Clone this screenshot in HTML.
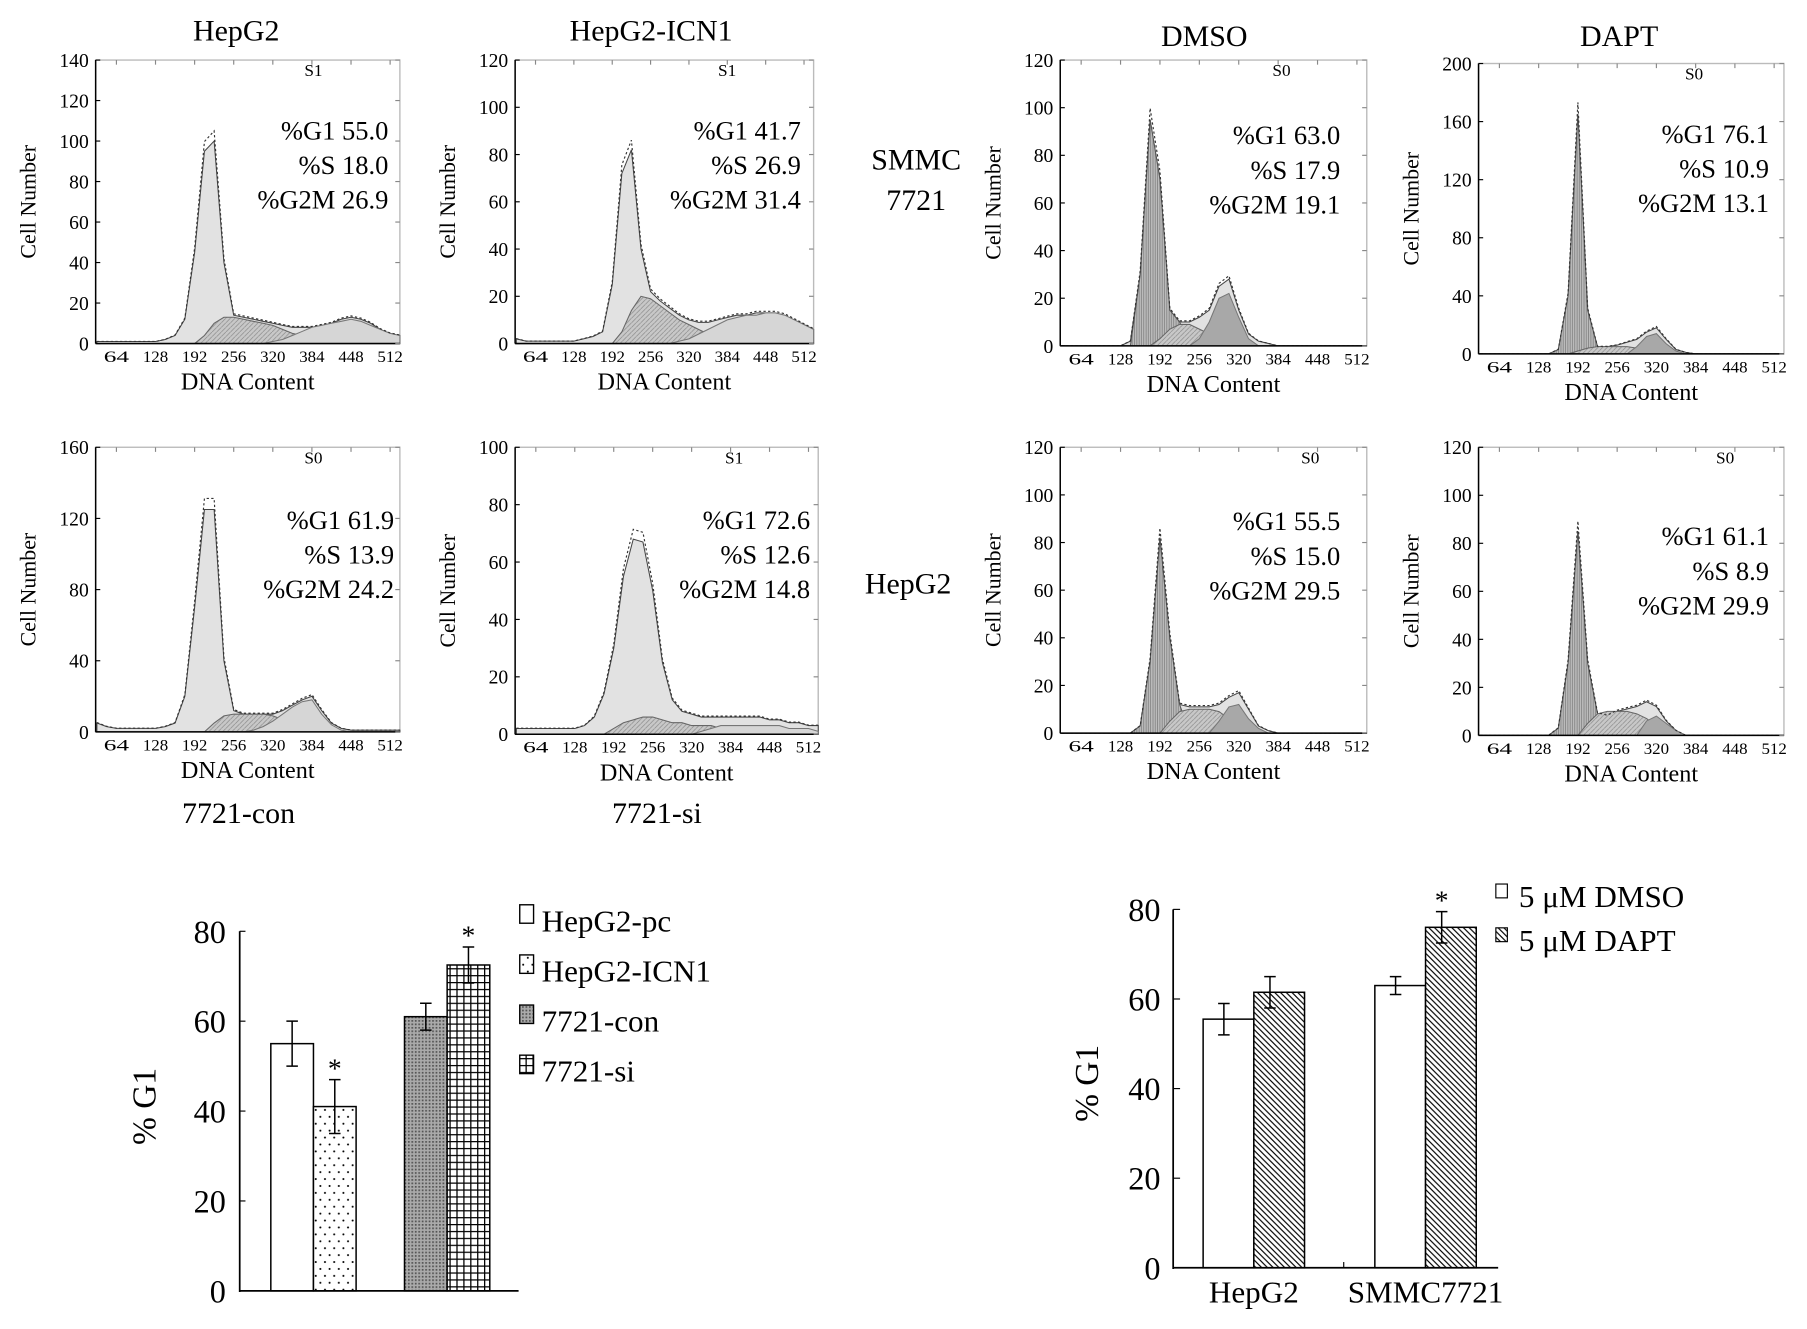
<!DOCTYPE html>
<html><head><meta charset="utf-8">
<style>
html,body{margin:0;padding:0;background:#fff;}
svg{display:block;font-family:"Liberation Serif",serif;}
</style></head>
<body>
<svg id="fig" width="1807" height="1329" viewBox="0 0 1568 1153" xmlns="http://www.w3.org/2000/svg">
<defs>
<pattern id="pDots" width="8" height="12" patternUnits="userSpaceOnUse"><rect width="8" height="12" fill="#fff"/><circle cx="2" cy="3" r="0.9" fill="#000"/><circle cx="6" cy="9" r="0.9" fill="#000"/></pattern>
<pattern id="pDark" width="3" height="3" patternUnits="userSpaceOnUse"><rect width="3" height="3" fill="#aaa"/><rect width="1.5" height="1.5" fill="#555"/></pattern>
<pattern id="pGrid" width="6" height="6" patternUnits="userSpaceOnUse"><rect width="6" height="6" fill="#fff"/><path d="M0 0.5H6M0.5 0V6" stroke="#000" stroke-width="1.2"/></pattern>
<pattern id="pDiag" width="5" height="5" patternUnits="userSpaceOnUse"><rect width="5" height="5" fill="#fff"/><path d="M-1 -1L6 6M-1 4L1 6M4 -1L6 1" stroke="#000" stroke-width="1"/></pattern>
<pattern id="pHatchS" width="4" height="4" patternUnits="userSpaceOnUse"><rect width="4" height="4" fill="#c8c8c8"/><path d="M0 4L4 0" stroke="#888" stroke-width="0.6"/></pattern>
<pattern id="pVert" width="2" height="4" patternUnits="userSpaceOnUse"><rect width="2" height="4" fill="#bbb"/><path d="M0.5 0V4" stroke="#777" stroke-width="0.6"/></pattern>
</defs>
<g id="root"></g>
</svg>
<script>
const NS="http://www.w3.org/2000/svg";
const root=document.getElementById('root');
function el(tag,attrs,parent,text){const e=document.createElementNS(NS,tag);for(const k in attrs)e.setAttribute(k,attrs[k]);if(text!==undefined)e.textContent=text;(parent||root).appendChild(e);return e;}

// ---------- histogram data ----------
const histX=[32,48,64,80,96,112,128,144,160,176,192,208,224,240,256,272,288,304,320,336,352,368,384,400,416,432,448,464,480,496,512,528];
const xTickLabels=[64,128,192,256,320,384,448,512];
const envA1=[1,1,1,1,1,1,1,2,4,12,45,95,100,40,14,13,12,11,10,9,8,8,8,9,10,12,13,12,10,7,5,4];
const sA1=[0,0,0,0,0,0,0,0,0,0,0,4,10,13,13,12,11,10,9,7,5,4,3,2,1,0,0,0,0,0,0,0];
const g2A1=[0,0,0,0,0,0,0,0,0,0,0,0,0,0,0,0,0,0,1,2,4,6,8,9,10,11,12,11,9,7,5,4];
const envA2=[2,1,1,1,1,1,1,2,3,5,25,72,82,40,22,18,15,12,10,9,9,10,11,12,12,13,13,13,12,10,8,6];
const sA2=[0,0,0,0,0,0,0,0,0,0,0,5,14,20,19,16,13,10,8,6,4,3,2,1,0,0,0,0,0,0,0,0];
const g2A2=[0,0,0,0,0,0,0,0,0,0,0,0,0,0,0,0,0,1,2,4,6,8,10,11,12,12,13,13,12,10,8,6];
const envA3=[5,3,2,2,2,2,2,3,5,20,70,125,125,40,12,10,10,10,10,12,15,18,20,12,5,2,1,1,1,1,1,1];
const sA3=[0,0,0,0,0,0,0,0,0,0,0,0,5,9,10,10,10,10,9,7,5,3,1,0,0,0,0,0,0,0,0,0];
const g2A3=[0,0,0,0,0,0,0,0,0,0,0,0,0,0,0,0,1,3,6,10,14,17,18,10,4,1,0,0,0,0,0,0];
const envA4=[2,2,2,2,2,2,2,3,6,14,30,55,68,67,50,25,12,8,7,6,6,6,6,6,6,6,5,5,4,4,3,3];
const sA4=[0,0,0,0,0,0,0,0,0,0,2,4,5,6,6,5,4,4,3,3,3,2,2,1,0,0,0,0,0,0,0,0];
const g2A4=[0,0,0,0,0,0,0,0,0,0,0,0,0,0,0,0,0,0,0,1,2,3,3,3,3,3,3,3,2,2,2,1];
const envB1=[0,0,0,0,0,0,0,2,30,95,70,15,10,10,12,15,25,28,15,5,2,1,0,0,0,0,0,0,0,0,0,0];
const sB1=[0,0,0,0,0,0,0,0,0,0,3,7,9,9,7,5,3,1,0,0,0,0,0,0,0,0,0,0,0,0,0,0];
const g2B1=[0,0,0,0,0,0,0,0,0,0,0,0,0,0,3,10,20,22,12,3,0,0,0,0,0,0,0,0,0,0,0,0];
const envB2=[0,0,0,0,0,0,0,0,3,40,165,30,5,5,6,8,10,15,18,10,3,1,0,0,0,0,0,0,0,0,0,0];
const sB2=[0,0,0,0,0,0,0,0,0,0,2,4,5,5,5,5,4,3,2,1,0,0,0,0,0,0,0,0,0,0,0,0];
const g2B2=[0,0,0,0,0,0,0,0,0,0,0,0,0,0,0,0,5,12,14,7,2,0,0,0,0,0,0,0,0,0,0,0];
const envB3=[0,0,0,0,0,0,0,0,3,30,82,40,12,11,11,11,12,15,17,10,3,1,0,0,0,0,0,0,0,0,0,0];
const sB3=[0,0,0,0,0,0,0,0,0,0,0,5,9,10,10,10,9,6,3,1,0,0,0,0,0,0,0,0,0,0,0,0];
const g2B3=[0,0,0,0,0,0,0,0,0,0,0,0,0,0,0,0,5,11,12,6,2,0,0,0,0,0,0,0,0,0,0,0];
const envB4=[0,0,0,0,0,0,0,0,3,30,85,30,9,8,10,11,12,14,12,6,2,0,0,0,0,0,0,0,0,0,0,0];
const sB4=[0,0,0,0,0,0,0,0,0,0,0,5,9,10,10,10,9,7,4,2,0,0,0,0,0,0,0,0,0,0,0,0];
const g2B4=[0,0,0,0,0,0,0,0,0,0,0,0,0,0,0,0,0,6,8,5,2,0,0,0,0,0,0,0,0,0,0,0];

function hist(c){
  const g=el('g',{});
  
  
  const xs=v=>c.x0+(v-30)/(528-30)*(c.x1-c.x0);
  const ys=v=>c.yb-Math.min(v,c.ymax)/c.ymax*(c.yb-c.yt);
  el('rect',{x:c.x0,y:c.yt,width:c.x1-c.x0,height:c.yb-c.yt,fill:'#fff',stroke:'#bbb','stroke-width':1.2},g);
  const area=(arr,fill,stroke)=>{let d='M'+xs(histX[0])+' '+ys(0);histX.forEach((x,i)=>{d+='L'+xs(x).toFixed(1)+' '+ys(arr[i]).toFixed(1);});d+='L'+xs(histX[histX.length-1])+' '+ys(0)+'Z';return el('path',{d:d,fill:fill,stroke:stroke,'stroke-width':0.9},g);};
  const e=area(c.env,'#e2e2e2','#444');
  if(c.peak){const p=area(c.env.map((v,i)=>(histX[i]>=150&&histX[i]<=224)?v:0),'url(#pVert)','#555');}
  const s=area(c.s,'url(#pHatchS)','#666');
  const g2=area(c.g2,c.peak?'#a8a8a8':'#d6d6d6','#777');
  // outline dashed
  let d='';histX.forEach((x,i)=>{d+=(i?'L':'M')+xs(x).toFixed(1)+' '+ys(c.env[i]*1.05).toFixed(1);});
  el('path',{d:d,fill:'none',stroke:'#333','stroke-width':1,'stroke-dasharray':'2 2'},g);
  el('line',{x1:c.x0,y1:c.yt,x2:c.x0,y2:c.yb,stroke:'#000','stroke-width':1.3},g);
  el('line',{x1:c.x0,y1:c.yb,x2:c.x1,y2:c.yb,stroke:'#000','stroke-width':1.3},g);
  for(let v=0;v<=c.ymax;v+=c.ystep){
    el('line',{x1:c.x0,y1:ys(v),x2:c.x0+4,y2:ys(v),stroke:'#000'},g);
    el('line',{x1:c.x1,y1:ys(v),x2:c.x1-4,y2:ys(v),stroke:'#888'},g);
    const t=el('text',{x:c.x0-6,y:ys(v)+6,'text-anchor':'end','font-size':17},g,String(v));
    
  }
  xTickLabels.forEach(v=>{
    el('line',{x1:xs(v),y1:c.yt,x2:xs(v),y2:c.yt+4,stroke:'#888'},g);
    const t=el('text',{x:xs(v),y:c.yb+16,'text-anchor':'middle','font-size':13.5,textLength:22,lengthAdjust:'spacingAndGlyphs'},g,String(v));
    
  });
  const cy=(c.yt+c.yb)/2;
  const yl=el('text',{x:c.x0-52,y:cy,'text-anchor':'middle','font-size':19,transform:`rotate(-90 ${c.x0-52} ${cy})`},g,'Cell Number');
  
  const xl=el('text',{x:(c.x0+c.x1)/2,y:c.yb+40,'text-anchor':'middle','font-size':21},g,'DNA Content');
  
  const sl=el('text',{x:c.sx,y:c.yt+14,'text-anchor':'middle','font-size':15},g,c.slab);
  
  c.stats.forEach((s,i)=>{const t=el('text',{x:c.statX,y:c.statY+i*30,'text-anchor':'end','font-size':23},g,s);
    });
  if(c.title){const t=el('text',{x:c.title[1],y:c.title[2],'text-anchor':'middle','font-size':26},g,c.title[0]);
    }
}
hist({name:'hist-hepg2',x0:83,x1:347,yt:52,yb:298,ymax:140,ystep:20,env:envA1,s:sA1,g2:g2A1,sx:272,slab:'S1',statX:337,statY:121,stats:['%G1 55.0','%S 18.0','%G2M 26.9'],title:['HepG2',205,35]});
hist({name:'hist-hepg2-icn1',x0:447,x1:706,yt:52,yb:298,ymax:120,ystep:20,env:envA2,s:sA2,g2:g2A2,sx:631,slab:'S1',statX:695,statY:121,stats:['%G1 41.7','%S  26.9','%G2M 31.4'],title:['HepG2-ICN1',565,35]});
hist({name:'hist-7721-con',x0:83,x1:347,yt:388,yb:635,ymax:160,ystep:40,env:envA3,s:sA3,g2:g2A3,sx:272,slab:'S0',statX:342,statY:459,stats:['%G1 61.9','%S 13.9','%G2M 24.2'],title:['7721-con',207,714]});
hist({name:'hist-7721-si',x0:447,x1:710,yt:388,yb:637,ymax:100,ystep:20,env:envA4,s:sA4,g2:g2A4,sx:637,slab:'S1',statX:703,statY:459,stats:['%G1 72.6','%S  12.6','%G2M 14.8'],title:['7721-si',570,714]});
hist({name:'hist-smmc-dmso',peak:1,x0:920,x1:1186,yt:52,yb:300,ymax:120,ystep:20,env:envB1,s:sB1,g2:g2B1,sx:1112,slab:'S0',statX:1163,statY:125,stats:['%G1 63.0','%S  17.9','%G2M  19.1'],title:['DMSO',1045,40]});
hist({name:'hist-smmc-dapt',peak:1,x0:1283,x1:1548,yt:55,yb:307,ymax:200,ystep:40,env:envB2,s:sB2,g2:g2B2,sx:1470,slab:'S0',statX:1535,statY:124,stats:['%G1 76.1','%S  10.9','%G2M  13.1'],title:['DAPT',1405,40]});
hist({name:'hist-hepg2-dmso',peak:1,x0:920,x1:1186,yt:388,yb:636,ymax:120,ystep:20,env:envB3,s:sB3,g2:g2B3,sx:1137,slab:'S0',statX:1163,statY:460,stats:['%G1 55.5','%S  15.0','%G2M  29.5']});
hist({name:'hist-hepg2-dapt',peak:1,x0:1283,x1:1548,yt:388,yb:638,ymax:120,ystep:20,env:envB4,s:sB4,g2:g2B4,sx:1497,slab:'S0',statX:1535,statY:473,stats:['%G1 61.1','%S  8.9','%G2M  29.9']});
[['SMMC',795,147],['7721',795,182],['HepG2',788,515]].forEach(r=>{const t=el('text',{x:r[1],y:r[2],'text-anchor':'middle','font-size':26},root,r[0]);
  });

// ---------- bar chart C ----------
const barCCats=['HepG2-pc','HepG2-ICN1','7721-con','7721-si'];
const barCVals=[55,41,61,72.5];
const barCErr=[5,6,3,4];
const barCStar=[false,true,false,true];
const barCTicks=[0,20,40,60,80];
const fillsC=['#fff','url(#pDots)','url(#pDark)','url(#pGrid)'];
const posC=[235,272,351,388];
(function(){
  const g=el('g',{});
  const y=v=>1120-v/80*312;
  barCVals.forEach((v,i)=>{const r=el('rect',{x:posC[i],y:y(v),width:37,height:y(0)-y(v),fill:fillsC[i],stroke:'#000','stroke-width':1.3},g);
    
    const cx=posC[i]+18.5;
    el('path',{d:`M${cx} ${y(v+barCErr[i])}V${y(v-barCErr[i])}M${cx-5} ${y(v+barCErr[i])}H${cx+5}M${cx-5} ${y(v-barCErr[i])}H${cx+5}`,stroke:'#000','stroke-width':1.3,fill:'none'},g);
    if(barCStar[i]){const s=el('text',{x:cx,y:y(v+barCErr[i])-2,'text-anchor':'middle','font-size':24},g,'*');}
  });
  el('line',{x1:208,y1:y(80),x2:208,y2:1121,stroke:'#000','stroke-width':1.5},g);
  el('line',{x1:208,y1:1120,x2:450,y2:1120,stroke:'#000','stroke-width':1.5},g);
  barCTicks.forEach(v=>{el('line',{x1:208,y1:y(v),x2:213,y2:y(v),stroke:'#000'},g);
    const t=el('text',{x:196,y:y(v)+10,'text-anchor':'end','font-size':28},g,String(v));});
  const yl=el('text',{x:135,y:960,'text-anchor':'middle','font-size':29,transform:'rotate(-90 135 960)'},g,'% G1');
  
  barCCats.forEach((c,i)=>{const yy=800+i*43.5;
    const lg=el('g',{},g);
    el('rect',{x:451,y:yy-15,width:12,height:16,fill:fillsC[i],stroke:'#000','stroke-width':1.2},lg);
    el('text',{x:470,y:yy+8,'font-size':27},lg,c);});
})();

// ---------- bar chart D ----------
const barDGroups=['HepG2','SMMC7721'];
const barDDmso=[55.5,63];
const barDDapt=[61.5,76];
const barDDmsoErr=[3.5,2];
const barDDaptErr=[3.5,3.5];
const barDTicks=[0,20,40,60,80];
(function(){
  const g=el('g',{});
  const y=v=>1100-v/80*311;
  const gx=[1044,1193];
  const bar=(x,w,v,e,fill,name,star)=>{const r=el('rect',{x:x,y:y(v),width:w,height:y(0)-y(v),fill:fill,stroke:'#000','stroke-width':1.3},g);
    
    const cx=x+w/2-(fill==='#fff'?4:8);
    el('path',{d:`M${cx} ${y(v+e)}V${y(v-e)}M${cx-5} ${y(v+e)}H${cx+5}M${cx-5} ${y(v-e)}H${cx+5}`,stroke:'#000','stroke-width':1.3,fill:'none'},g);
    if(star){const s=el('text',{x:cx,y:y(v+e)-2,'text-anchor':'middle','font-size':24},g,'*');}};
  barDGroups.forEach((n,i)=>{
    bar(gx[i],44,barDDmso[i],barDDmsoErr[i],'#fff','bar-'+n.toLowerCase()+'-dmso',false);
    bar(gx[i]+44,44,barDDapt[i],barDDaptErr[i],'url(#pDiag)','bar-'+n.toLowerCase()+'-dapt',i===1);
    const t=el('text',{x:gx[i]+44,y:1130,'text-anchor':'middle','font-size':27},g,n);
  });
  el('line',{x1:1018,y1:y(80),x2:1018,y2:1101,stroke:'#000','stroke-width':1.5},g);
  el('line',{x1:1018,y1:1100,x2:1300,y2:1100,stroke:'#000','stroke-width':1.5},g);
  el('line',{x1:1166,y1:1095,x2:1166,y2:1100,stroke:'#000'},g);
  barDTicks.forEach(v=>{el('line',{x1:1018,y1:y(v),x2:1024,y2:y(v),stroke:'#000'},g);
    const t=el('text',{x:1007,y:y(v)+10,'text-anchor':'end','font-size':28},g,String(v));});
  const yl=el('text',{x:953,y:940,'text-anchor':'middle','font-size':29,transform:'rotate(-90 953 940)'},g,'% G1');
  
  [['5 μM DMSO','#fff',779],['5 μM DAPT','url(#pDiag)',817]].forEach(r=>{
    const lg=el('g',{},g);
    el('rect',{x:1298,y:r[2]-12,width:10,height:12,fill:r[1],stroke:'#000'},lg);
    el('text',{x:1318,y:r[2]+8,'font-size':27},lg,r[0]);});
})();
</script>
</body></html>
